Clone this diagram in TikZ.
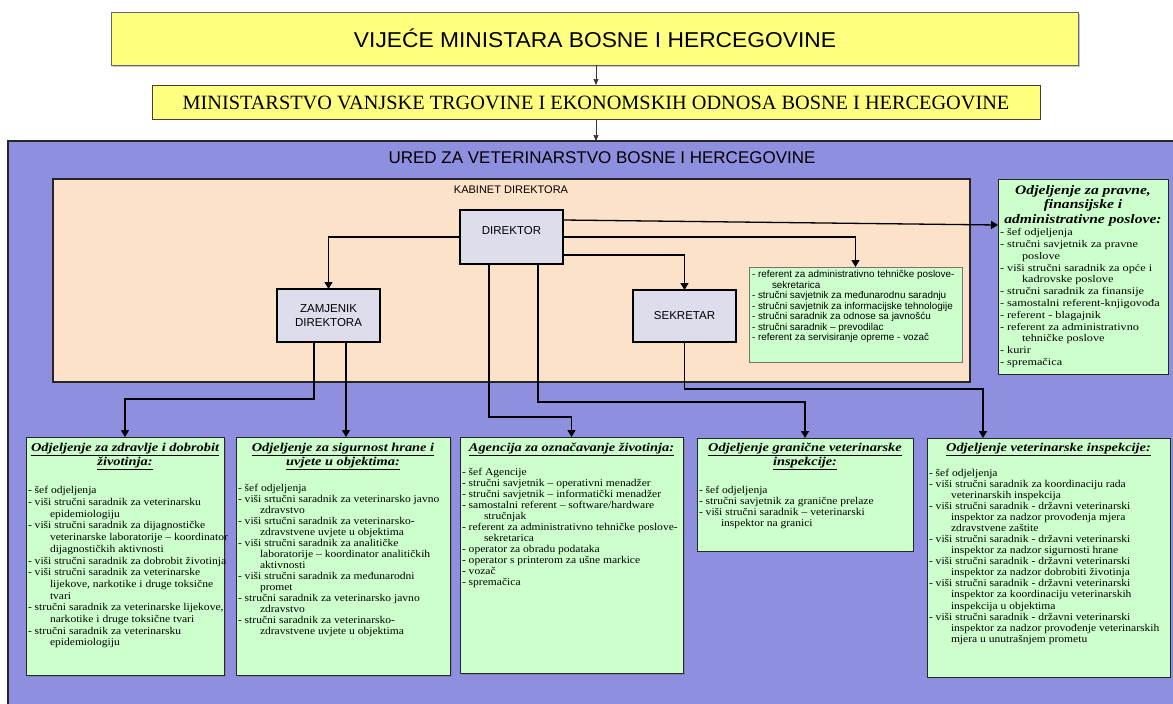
\documentclass[tikz,border=0pt]{standalone}
\usepackage{fontspec}
\setmainfont{Liberation Serif}
\newfontfamily\sfa{Liberation Sans}
\newfontfamily\sfw[FakeStretch=1.06]{Liberation Sans}
\newfontfamily\itm[FakeStretch=1.11]{Liberation Serif}
\newfontfamily\itmw[FakeStretch=1.2]{Liberation Serif}
\usetikzlibrary{arrows.meta,shadows,calc}
\definecolor{purp}{RGB}{143,143,224}
\definecolor{peach}{RGB}{252,226,200}
\definecolor{lav}{RGB}{221,221,236}
\definecolor{grn}{RGB}{204,255,204}
\definecolor{yel}{RGB}{255,255,128}
\newcommand{\ind}{\hspace*{22pt}}
\newcommand{\indr}{\hspace*{20pt}}
\begin{document}
\begin{tikzpicture}[x=1pt,y=-1pt,
  every node/.style={inner sep=0pt, outer sep=0pt},
  ybox/.style={draw=black!60, fill=yel, line width=0.8pt, anchor=north west},
  area/.style={draw=black!85, line width=1.2pt, anchor=north west},
  lbox/.style={draw=black, fill=lav, line width=1.2pt, anchor=north west, font=\sfa\fontsize{11.5}{13.5}\selectfont, align=center},
  gbox/.style={draw=black!85, fill=grn, line width=1pt, anchor=north west},
  sbox/.style={gbox, drop shadow={shadow xshift=1.5pt, shadow yshift=-1.5pt, fill=black!55}},
  itemtxt/.style={anchor=north west, align=left, font=\itm\fontsize{10.4}{11.3}\selectfont},
  ttltxt/.style={anchor=north, align=center, font=\itmw\bfseries\itshape\fontsize{12}{14}\selectfont},
  arr/.style={draw=black, line width=1.3pt, -{Triangle[length=7pt,width=8pt]}},
  tarr/.style={draw=black!80, line width=0.7pt, -{Triangle[length=6pt,width=5pt]}}
]
\useasboundingbox (0,0) rectangle (1173,704);
\fill[white] (0,0) rectangle (1173,704);

% top boxes
\node[ybox, minimum width=967pt, minimum height=53pt, drop shadow={shadow xshift=2pt, shadow yshift=-2pt, fill=black!45}] (vm) at (111,12) {};
\node[font=\sfw\fontsize{21.5}{24}\selectfont] (vmt) at (595,38) {VIJEĆE MINISTARA BOSNE I HERCEGOVINE};
\node[ybox, draw=black!75, minimum width=888pt, minimum height=34pt] (min) at (152,85) {};
\node[font=\fontsize{20.3}{22}\selectfont] (mint) at (596,102.5) {MINISTARSTVO VANJSKE TRGOVINE I EKONOMSKIH ODNOSA BOSNE I HERCEGOVINE};

% purple office
\node[area, fill=purp, minimum width=1180pt, minimum height=580pt] (ured) at (8,141) {};
\node[font=\sfa\fontsize{17}{19}\selectfont] (uredt) at (602,158) {URED ZA VETERINARSTVO BOSNE I HERCEGOVINE};

\draw[tarr] (vm.south -| min.north) -- (min.north);
\draw[tarr] (min.south) -- (min.south |- ured.north);

% kabinet
\node[area, fill=peach, minimum width=917pt, minimum height=203pt] (kab) at (53,179) {};
\node[font=\sfa\fontsize{11}{13}\selectfont] (kabt) at (511,190) {KABINET DIREKTORA};

\node[lbox, minimum width=103pt, minimum height=54pt, text depth=14pt] (dir) at (460,210) {DIREKTOR};
\node[lbox, minimum width=103pt, minimum height=53pt] (zam) at (277,289) {ZAMJENIK\\DIREKTORA};
\node[lbox, minimum width=103pt, minimum height=52pt] (sek) at (633,290) {SEKRETAR};

% referent box
\node[gbox, draw=black!55, line width=0.8pt, minimum width=213pt, minimum height=95pt] (ref) at (749,267) {};
\node[anchor=north west, align=left, font=\sfa\fontsize{9.9}{10.5}\selectfont] (reft) at ($(ref.north west)+(3,3.5)$) {%
- referent za administrativno tehničke poslove-\\
\indr sekretarica\\
- stručni savjetnik za međunarodnu saradnju\\
- stručni savjetnik za informacijske tehnologije\\
- stručni saradnik za odnose sa javnošću\\
- stručni saradnik – prevodilac\\
- referent za servisiranje opreme - vozač};

% right box
\node[gbox, minimum width=170pt, minimum height=195pt] (rb) at (998,179) {};
\node[ttltxt, font=\itmw\bfseries\itshape\fontsize{13}{14.5}\selectfont] (rbh) at ($(rb.north)+(0,6)$) {Odjeljenje za pravne,\\finansijske i\\administrativne poslove:};
\node[itemtxt, font=\itmw\fontsize{10.2}{11.8}\selectfont] (rbt) at ($(rb.north west)+(2,49.5)$) {%
- šef odjeljenja\\
- stručni savjetnik za pravne\\
\ind poslove\\
- viši stručni saradnik za opće i\\
\ind kadrovske poslove\\
- stručni saradnik za finansije\\
- samostalni referent-knjigovođa\\
- referent - blagajnik\\
- referent za administrativno\\
\ind tehničke poslove\\
- kurir\\
- spremačica};

% bottom boxes
\node[sbox, minimum width=198pt, minimum height=238pt] (b1) at (26,437) {};
\node[ttltxt] (b1h) at ($(b1.north)+(0,6)$) {\underline{Odjeljenje za zdravlje i dobrobit}\\\underline{životinja:}};
\node[itemtxt, font=\itm\fontsize{10.4}{11.7}\selectfont] (b1t) at ($(b1.north west)+(2,49.5)$) {%
- šef odjeljenja\\
- viši stručni saradnik za veterinarsku\\
\ind epidemiologiju\\
- viši stručni saradnik za dijagnostičke\\
\ind veterinarske laboratorije – koordinator\\
\ind dijagnostičkih aktivnosti\\
- viši stručni saradnik za dobrobit životinja\\
- viši stručni saradnik za veterinarske\\
\ind lijekove, narkotike i druge toksične\\
\ind tvari\\
- stručni saradnik za veterinarske lijekove,\\
\ind narkotike i druge toksične tvari\\
- stručni saradnik za veterinarsku\\
\ind epidemiologiju};

\node[sbox, minimum width=214pt, minimum height=238pt] (b2) at (236,437) {};
\node[ttltxt] (b2h) at ($(b2.north)+(0,6)$) {\underline{Odjeljenje za sigurnost hrane i}\\\underline{uvjete u objektima:}};
\node[itemtxt, font=\itm\fontsize{10.4}{11}\selectfont] (b2t) at ($(b2.north west)+(2,47.5)$) {%
- šef odjeljenja\\
- viši srtučni saradnik za veterinarsko javno\\
\ind zdravstvo\\
- viši srtučni saradnik za veterinarsko-\\
\ind zdravstvene uvjete u objektima\\
- viši stručni saradnik za analitičke\\
\ind laboratorije – koordinator analitičkih\\
\ind aktivnosti\\
- viši stručni saradnik za međunarodni\\
\ind promet\\
- stručni saradnik za veterinarsko javno\\
\ind zdravstvo\\
- stručni saradnik za veterinarsko-\\
\ind zdravstvene uvjete u objektima};

\node[sbox, minimum width=223pt, minimum height=236pt] (b3) at (460,437) {};
\node[ttltxt] (b3h) at ($(b3.north)+(0,6)$) {\underline{Agencija za označavanje životinja:}};
\node[itemtxt, font=\itm\fontsize{10.4}{11}\selectfont] (b3t) at ($(b3.north west)+(2,31.5)$) {%
- šef Agencije\\
- stručni savjetnik – operativni menadžer\\
- stručni savjetnik – informatički menadžer\\
- samostalni referent – software/hardware\\
\ind stručnjak\\
- referent za administrativno tehničke poslove-\\
\ind sekretarica\\
- operator za obradu podataka\\
- operator s printerom za ušne markice\\
- vozač\\
- spremačica};

\node[gbox, minimum width=216pt, minimum height=113pt] (b4) at (697,438) {};
\node[ttltxt] (b4h) at ($(b4.north)+(0,5)$) {\underline{Odjeljenje granične veterinarske}\\\underline{inspekcije:}};
\node[itemtxt, font=\itm\fontsize{10.4}{11}\selectfont] (b4t) at ($(b4.north west)+(2,48)$) {%
- šef odjeljenja\\
- stručni savjetnik za granične prelaze\\
- viši stručni saradnik – veterinarski\\
\ind inspektor na granici};

\node[gbox, minimum width=243pt, minimum height=239pt] (b5) at (927,438) {};
\node[ttltxt] (b5h) at ($(b5.north)+(0,5)$) {\underline{Odjeljenje veterinarske inspekcije:}};
\node[itemtxt, font=\itm\fontsize{10.4}{11.06}\selectfont] (b5t) at ($(b5.north west)+(2,31)$) {%
- šef odjeljenja\\
- viši stručni saradnik za koordinaciju rada\\
\ind veterinarskih inspekcija\\
- viši stručni saradnik - državni veterinarski\\
\ind inspektor za nadzor provođenja mjera\\
\ind zdravstvene zaštite\\
- viši stručni saradnik - državni veterinarski\\
\ind inspektor za nadzor sigurnosti hrane\\
- viši stručni saradnik - državni veterinarski\\
\ind inspektor za nadzor dobrobiti životinja\\
- viši stručni saradnik - državni veterinarski\\
\ind inspektor za koordinaciju veterinarskih\\
\ind inspekcija u objektima\\
- viši stručni saradnik - državni veterinarski\\
\ind inspektor za nadzor provođenje veterinarskih\\
\ind mjera u unutrašnjem prometu};

% connectors
\draw[arr] ([yshift=-10pt]dir.north east) -- ([yshift=-46pt]rb.north west);
\draw[arr] ([yshift=-27pt]dir.north east) -| (ref.north);
\draw[arr] ([yshift=-45pt]dir.north east) -| (sek.north);
\draw[arr] ([yshift=-27pt]dir.north west) -| (zam.north);
\draw[arr] ([xshift=29pt]dir.south west) -- ++(0,153) -| (b3.north);
\draw[arr] ([xshift=78pt]dir.south west) -- ++(0,138) -| (b4.north);
\draw[arr] (sek.south) -- ++(0,47) -| ([xshift=56pt]b5.north west);
\draw[arr] ([xshift=37pt]zam.south west) -- ++(0,57) -| (b1.north);
\coordinate (z2) at ([xshift=69pt]zam.south west);
\draw[arr] (z2) -- (z2 |- b2.north);
\end{tikzpicture}
\end{document}
